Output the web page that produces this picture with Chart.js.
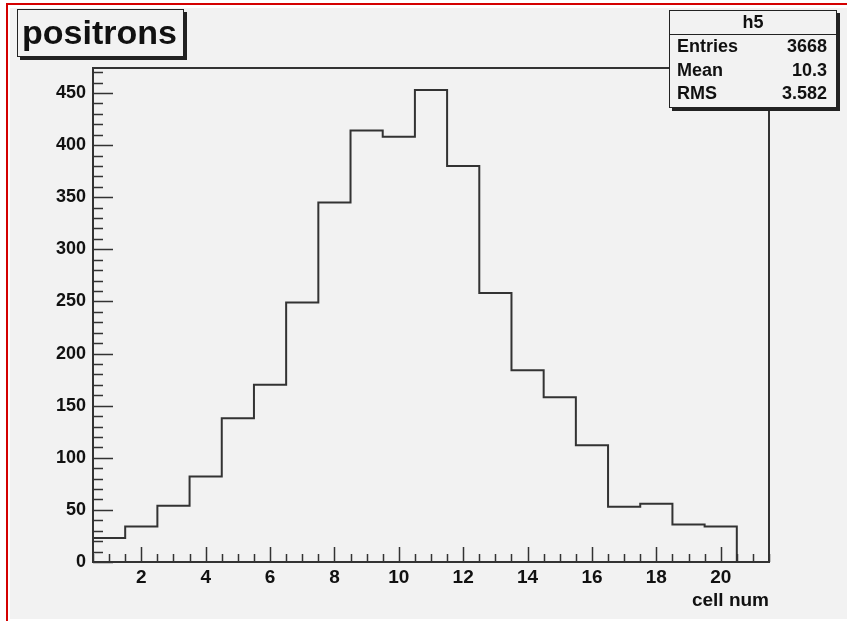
<!DOCTYPE html>
<html>
<head>
<meta charset="utf-8">
<script src="https://cdn.jsdelivr.net/npm/chart.js@4"></script>
<style>
  html, body { margin: 0; padding: 0; background: #fff; }
  body { width: 847px; height: 621px; position: relative; overflow: hidden; font-family: "Liberation Sans", Arial, sans-serif; }
  #pad { position: absolute; left: 10px; top: 8px; width: 837px; height: 611px; background: #f2f2f2; }
  #redframe { position: absolute; left: 6px; top: 3px; width: 841px; height: 618px; border-left: 2px solid #d40000; border-top: 2px solid #d40000; box-sizing: border-box; }
  canvas { position: absolute; left: 0; top: 0; }
  .box { position: absolute; background: #f2f2f2; border: 1.5px solid #222; box-shadow: 3px 3px 0 #222; box-sizing: border-box; color: #111; font-weight: bold; }
  #title { left: 17px; top: 9px; width: 167px; height: 48px; font-size: 34px; line-height: 44px; padding-left: 4px; }
  #stats { left: 669px; top: 10px; width: 168px; height: 98px; font-size: 18px; }
  #stats .head { height: 23px; line-height: 23px; text-align: center; border-bottom: 1.5px solid #222; }
  #stats .row { height: 23.5px; line-height: 23.5px; display: flex; justify-content: space-between; padding: 0 9px 0 7px; }
</style>
</head>
<body>
<div id="pad"></div>
<div id="redframe"></div>
<canvas id="chart-h5" width="847" height="621"></canvas>
<div class="box" id="title">positrons</div>
<div class="box" id="stats">
  <div class="head">h5</div>
  <div class="row"><span>Entries</span><span>3668</span></div>
  <div class="row"><span>Mean</span><span>10.3</span></div>
  <div class="row"><span>RMS</span><span>3.582</span></div>
</div>
<script>
// histogram h5 : cell number vs counts
const binCenters = [1, 2, 3, 4, 5, 6, 7, 8, 9, 10, 11, 12, 13, 14, 15, 16, 17, 18, 19, 20, 21];
const counts = [23, 34, 54, 82, 138, 170, 249, 345, 414, 408, 453, 380, 258, 184, 158, 112, 53, 56, 36, 34, 0];
const xTickLabels = [2, 4, 6, 8, 10, 12, 14, 16, 18, 20];
const yTickLabels = [0, 50, 100, 150, 200, 250, 300, 350, 400, 450];
const xMin = 0.5, xMax = 21.5, yMax = 474;

const FONT = '"Liberation Sans", Arial, sans-serif';
const INK = '#333';

// each bin -> flat top from low edge to high edge
const histPoints = counts.flatMap((c, i) => [
  { x: binCenters[i] - 0.5, y: c },
  { x: binCenters[i] + 0.5, y: c }
]);

// ROOT style frame + inward ticks
const frameTicks = {
  id: 'frameTicks',
  afterDraw(chart) {
    const { ctx, chartArea: a, scales: { x, y } } = chart;
    ctx.save();
    ctx.strokeStyle = INK;
    ctx.lineWidth = 2;
    ctx.strokeRect(a.left, a.top, a.right - a.left, a.bottom - a.top);

    ctx.lineWidth = 1.5;
    ctx.beginPath();
    for (let v = xMin; v <= xMax + 1e-6; v += 0.5) {
      const px = Math.round(x.getPixelForValue(v)) + 0.5;
      const len = xTickLabels.includes(v) ? 15 : 8;
      ctx.moveTo(px, a.bottom);
      ctx.lineTo(px, a.bottom - len);
    }
    for (let v = 0; v <= yMax; v += 10) {
      const py = Math.round(y.getPixelForValue(v)) + 0.5;
      const len = yTickLabels.includes(v) ? 20 : 10;
      ctx.moveTo(a.left, py);
      ctx.lineTo(a.left + len, py);
    }
    ctx.stroke();
    ctx.restore();
  }
};

new Chart(document.getElementById('chart-h5').getContext('2d'), {
  type: 'line',
  data: {
    datasets: [{
      label: 'h5',
      data: histPoints,
      borderColor: INK,
      borderWidth: 2,
      pointRadius: 0,
      tension: 0,
      fill: false,
      clip: false
    }]
  },
  options: {
    responsive: false,
    animation: false,
    layout: { padding: { left: 0, top: 68, right: 78, bottom: 0 } },
    plugins: { legend: { display: false }, tooltip: { enabled: false } },
    scales: {
      x: {
        type: 'linear',
        min: xMin,
        max: xMax,
        grid: { display: false, drawTicks: false },
        border: { display: false },
        afterBuildTicks: s => { s.ticks = xTickLabels.map(v => ({ value: v })); },
        afterFit: s => { s.height = 59; },
        ticks: { color: '#111', padding: 4, maxRotation: 0, font: { family: FONT, size: 19, weight: 'bold' } },
        title: {
          display: true,
          text: 'cell num',
          align: 'end',
          color: '#111',
          padding: { top: 0, bottom: 9 },
          font: { family: FONT, size: 19, weight: 'bold', lineHeight: 1.2 }
        }
      },
      y: {
        min: 0,
        max: yMax,
        grid: { display: false, drawTicks: false },
        border: { display: false },
        afterBuildTicks: s => { s.ticks = yTickLabels.map(v => ({ value: v })); },
        afterFit: s => { s.width = 93; },
        ticks: { color: '#111', padding: 7, font: { family: FONT, size: 18, weight: 'bold' } }
      }
    }
  },
  plugins: [frameTicks]
});
</script>
</body>
</html>
